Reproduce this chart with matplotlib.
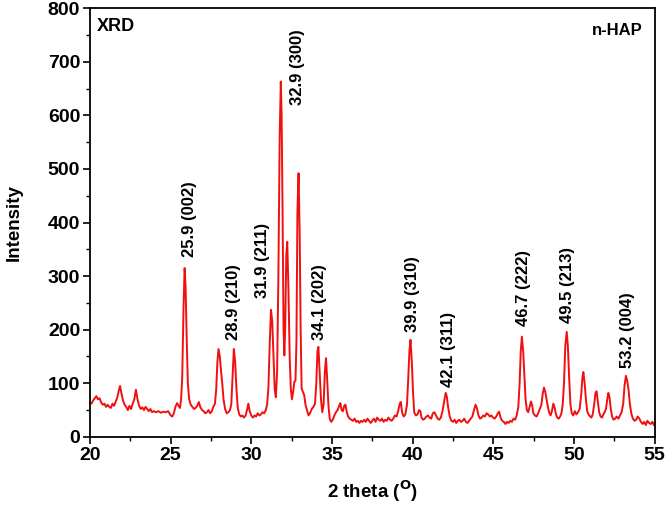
import matplotlib.pyplot as plt
from matplotlib.ticker import MultipleLocator

# XRD trace (2 theta in degrees, intensity in counts)
two_theta = [
    20.00, 20.10, 20.20, 20.30, 20.40, 20.50, 20.60, 20.70, 20.80, 20.90,
    21.00, 21.10, 21.20, 21.30, 21.40, 21.50, 21.60, 21.70, 21.80, 21.87,
    21.95, 22.05, 22.15, 22.25, 22.35, 22.45, 22.55, 22.65, 22.75, 22.85,
    22.95, 23.05, 23.15, 23.25, 23.35, 23.45, 23.55, 23.65, 23.75, 23.85,
    23.95, 24.10, 24.25, 24.40, 24.55, 24.70, 24.85, 25.00, 25.10, 25.20,
    25.30, 25.40, 25.50, 25.58, 25.65, 25.72, 25.80, 25.87, 25.93, 26.00,
    26.07, 26.15, 26.25, 26.35, 26.45, 26.55, 26.65, 26.75, 26.85, 26.95,
    27.05, 27.15, 27.25, 27.35, 27.45, 27.55, 27.65, 27.75, 27.83, 27.90,
    27.97, 28.05, 28.12, 28.20, 28.28, 28.38, 28.48, 28.58, 28.68, 28.76,
    28.84, 28.92, 29.00, 29.08, 29.16, 29.25, 29.35, 29.45, 29.55, 29.65,
    29.75, 29.82, 29.90, 30.00, 30.10, 30.20, 30.30, 30.40, 30.50, 30.60,
    30.70, 30.80, 30.90, 30.98, 31.06, 31.14, 31.22, 31.30, 31.38, 31.45,
    31.52, 31.60, 31.68, 31.76, 31.83, 31.88, 31.94, 32.00, 32.05, 32.10,
    32.17, 32.23, 32.30, 32.38, 32.45, 32.52, 32.60, 32.67, 32.74, 32.80,
    32.86, 32.93, 33.00, 33.06, 33.12, 33.20, 33.28, 33.36, 33.45, 33.55,
    33.65, 33.75, 33.85, 33.95, 34.03, 34.10, 34.16, 34.24, 34.32, 34.40,
    34.48, 34.56, 34.63, 34.70, 34.78, 34.86, 34.95, 35.05, 35.15, 35.25,
    35.35, 35.45, 35.52, 35.60, 35.68, 35.76, 35.84, 35.92, 36.00, 36.10,
    36.20, 36.30, 36.40, 36.50, 36.60, 36.70, 36.80, 36.90, 37.00, 37.10,
    37.20, 37.30, 37.40, 37.50, 37.60, 37.70, 37.80, 37.90, 38.00, 38.10,
    38.20, 38.30, 38.40, 38.50, 38.60, 38.70, 38.80, 38.90, 39.00, 39.10,
    39.20, 39.27, 39.35, 39.45, 39.55, 39.65, 39.73, 39.80, 39.87, 39.95,
    40.03, 40.10, 40.20, 40.30, 40.40, 40.48, 40.55, 40.65, 40.75, 40.85,
    40.95, 41.05, 41.15, 41.25, 41.35, 41.45, 41.55, 41.65, 41.75, 41.85,
    41.95, 42.05, 42.12, 42.20, 42.30, 42.40, 42.50, 42.60, 42.70, 42.80,
    42.90, 43.00, 43.10, 43.20, 43.30, 43.40, 43.50, 43.60, 43.70, 43.80,
    43.90, 43.98, 44.08, 44.18, 44.28, 44.38, 44.48, 44.58, 44.68, 44.78,
    44.88, 44.98, 45.08, 45.18, 45.28, 45.36, 45.45, 45.55, 45.65, 45.75,
    45.85, 45.95, 46.05, 46.15, 46.25, 46.35, 46.45, 46.55, 46.63, 46.70,
    46.77, 46.85, 46.93, 47.00, 47.08, 47.16, 47.25, 47.33, 47.40, 47.48,
    47.58, 47.68, 47.78, 47.88, 47.98, 48.06, 48.14, 48.22, 48.30, 48.38,
    48.46, 48.55, 48.63, 48.72, 48.80, 48.88, 48.96, 49.05, 49.14, 49.22,
    49.30, 49.38, 49.46, 49.55, 49.62, 49.70, 49.78, 49.86, 49.95, 50.05,
    50.15, 50.25, 50.35, 50.45, 50.52, 50.58, 50.66, 50.74, 50.82, 50.90,
    51.00, 51.08, 51.16, 51.25, 51.33, 51.40, 51.48, 51.56, 51.65, 51.74,
    51.82, 51.90, 51.98, 52.06, 52.13, 52.20, 52.28, 52.36, 52.45, 52.55,
    52.65, 52.75, 52.85, 52.95, 53.05, 53.13, 53.22, 53.30, 53.38, 53.46,
    53.55, 53.65, 53.75, 53.85, 53.95, 54.05, 54.15, 54.25, 54.35, 54.45,
    54.55, 54.65, 54.75, 54.85, 54.95, 55.00,
]
intensity = [
    64, 62, 68, 72, 76, 70, 72, 64, 60, 62,
    56, 60, 56, 54, 62, 58, 66, 74, 88, 95,
    82, 68, 60, 56, 50, 58, 52, 62, 70, 88,
    70, 58, 52, 55, 50, 56, 52, 48, 52, 46,
    48, 46, 48, 45, 47, 46, 48, 40, 38, 44,
    56, 63, 58, 54, 70, 110, 240, 315, 280, 180,
    100, 70, 60, 56, 52, 54, 58, 65, 55, 50,
    48, 44, 46, 50, 44, 48, 56, 62, 90, 140,
    164, 150, 125, 100, 70, 52, 44, 46, 50, 60,
    110, 164, 140, 90, 55, 42, 38, 40, 36, 40,
    52, 62, 48, 40, 36, 40, 38, 44, 40, 42,
    46, 44, 50, 60, 90, 170, 237, 215, 150, 90,
    74, 120, 300, 560, 663, 600, 420, 200, 152, 200,
    340, 364, 280, 150, 90, 70, 85, 103, 105, 180,
    420, 492, 380, 200, 90, 84, 78, 60, 50, 40,
    45, 52, 56, 62, 100, 160, 168, 120, 70, 46,
    60, 120, 147, 110, 60, 34, 28, 32, 40, 46,
    50, 58, 63, 50, 48, 58, 60, 46, 38, 34,
    32, 30, 34, 28, 30, 26, 30, 28, 32, 28,
    34, 30, 26, 30, 34, 28, 36, 32, 30, 34,
    28, 32, 30, 36, 32, 30, 34, 40, 38, 48,
    62, 65, 45, 38, 42, 60, 110, 160, 181, 140,
    80, 45, 40, 42, 50, 48, 36, 32, 34, 38,
    40, 36, 34, 44, 46, 40, 34, 32, 36, 48,
    66, 82, 75, 55, 38, 30, 28, 32, 26, 30,
    32, 28, 30, 34, 28, 26, 30, 34, 38, 50,
    60, 54, 40, 34, 36, 40, 38, 44, 42, 38,
    40, 36, 34, 38, 44, 47, 36, 30, 28, 24,
    28, 26, 30, 28, 34, 32, 40, 56, 100, 160,
    187, 160, 110, 70, 50, 46, 56, 66, 60, 44,
    40, 38, 44, 52, 60, 80, 92, 84, 70, 56,
    46, 40, 48, 62, 55, 42, 36, 34, 38, 44,
    60, 100, 170, 196, 170, 110, 60, 44, 40, 48,
    42, 46, 52, 80, 110, 121, 100, 70, 48, 42,
    38, 36, 42, 60, 82, 85, 66, 46, 38, 36,
    42, 46, 52, 70, 82, 74, 52, 38, 32, 34,
    38, 34, 40, 46, 62, 95, 114, 104, 88, 62,
    44, 34, 30, 32, 38, 34, 28, 24, 28, 22,
    30, 26, 24, 28, 22, 26,
]

# peak annotations: (position of text, base height of text, label)
label_x = [26.2, 28.9, 30.7, 32.85, 34.2, 40.0, 42.2, 46.9, 49.6, 53.3]
label_y = [335, 180, 260, 619, 181, 196, 93, 206, 213, 129]
label_text = ["25.9 (002)", "28.9 (210)", "31.9 (211)", "32.9 (300)", "34.1 (202)",
              "39.9 (310)", "42.1 (311)", "46.7 (222)", "49.5 (213)", "53.2 (004)"]

plt.rcParams['font.family'] = ['Liberation Sans', 'DejaVu Sans']

fig = plt.figure(figsize=(6.66, 5.08), dpi=100)
ax = fig.add_axes([0.135, 0.140, 0.848, 0.844])

ax.plot(two_theta, intensity, color='#f01010', linewidth=1.4)

for x, y, t in zip(label_x, label_y, label_text):
    ax.text(x, y, t, rotation=90, ha='center', va='bottom',
            fontsize=12, fontweight='bold')

ax.text(0.013, 0.978, "XRD", transform=ax.transAxes, ha='left', va='top',
        fontsize=13, fontweight='bold')
ax.text(0.978, 0.966, "n-HAP", transform=ax.transAxes, ha='right', va='top',
        fontsize=12, fontweight='bold')

ax.set_xlim(20, 55)
ax.set_ylim(0, 800)
ax.xaxis.set_major_locator(MultipleLocator(5))
ax.xaxis.set_minor_locator(MultipleLocator(2.5))
ax.yaxis.set_major_locator(MultipleLocator(100))
ax.yaxis.set_minor_locator(MultipleLocator(50))
ax.tick_params(which='major', direction='out', length=5, width=1.2,
               labelsize=14, pad=2)
ax.tick_params(which='minor', direction='out', length=3, width=1.0)
for lab in ax.get_xticklabels() + ax.get_yticklabels():
    lab.set_fontweight('bold')
for s in ax.spines.values():
    s.set_linewidth(1.3)

ax.set_xlabel("2 theta ($\\mathbf{^{O}}$)", fontsize=13.5, fontweight='bold', labelpad=11)
ax.set_ylabel("Intensity", fontsize=13.5, fontweight='bold', labelpad=18)

fig.savefig("out.png", dpi=100)
